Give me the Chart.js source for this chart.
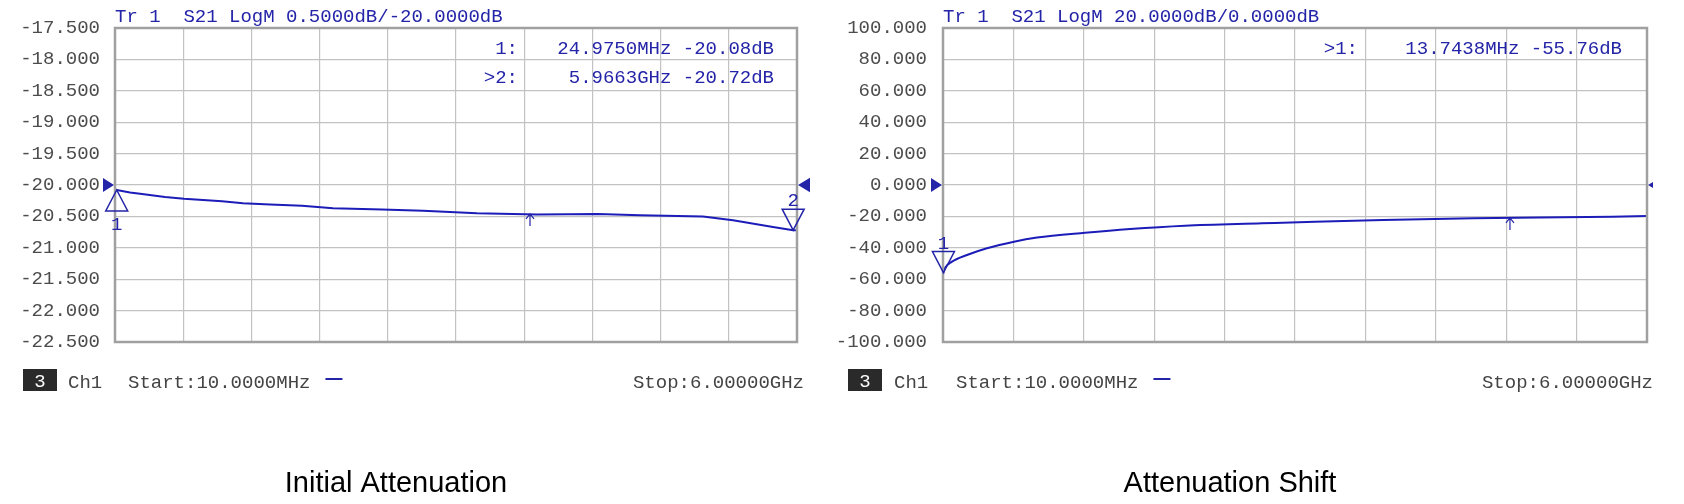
<!DOCTYPE html>
<html>
<head>
<meta charset="utf-8">
<script src="https://cdn.jsdelivr.net/npm/chart.js@4.4.1/dist/chart.umd.min.js"></script>
<style>
  html, body { margin: 0; padding: 0; background: #fff; }
  #wrap { position: relative; width: 1684px; height: 504px; }
  canvas { position: absolute; top: 0; }
  #left { left: 0; }
  #right { left: 820px; }
</style>
</head>
<body>
<div id="wrap">
  <canvas id="left" width="820" height="504"></canvas>
  <canvas id="right" width="864" height="504"></canvas>
</div>
<script>
const MONO = '19px "Liberation Mono", "DejaVu Sans Mono", monospace';
const BLUE = '#2424a8';
const TRACE = '#1c1cb8';

// sweep
const startMHz = 10;
const stopMHz = 6000;

// left: initial attenuation (S21, 0.5 dB/div, ref -20 dB)
const leftFreqMHz = [10, 25, 142, 230, 449, 616, 950, 1134, 1371, 1652, 1925, 2355, 2715, 2952, 3189, 3716, 4252, 4621, 5174, 5350, 5438, 5789, 5966, 6000];
const leftDb = [-20.08, -20.08, -20.12, -20.14, -20.19, -20.22, -20.26, -20.29, -20.31, -20.33, -20.37, -20.39, -20.41, -20.43, -20.45, -20.47, -20.46, -20.48, -20.50, -20.54, -20.56, -20.67, -20.72, -20.72];
const leftYTicks = [-22.5, -17.5, 0.5]; // min, max, step
const leftRefDb = -20;
const leftMarkerMHz = [24.975, 5966.3];
const leftMarkerDb = [-20.08, -20.72];
const leftMarkerUp = [true, false];
const leftArrow = [3655, -20.46];

// right: attenuation shift (S21, 20 dB/div, ref 0 dB)
const rightFreqMHz = [10, 13.74, 30, 87, 214, 384, 614, 810, 1218, 1601, 2069, 2724, 3175, 3754, 4520, 5702, 6000];
const rightDb = [-57.0, -55.76, -52.5, -48.8, -44.6, -40.3, -36.1, -33.5, -30.4, -28.0, -25.9, -24.4, -23.4, -22.3, -21.2, -20.2, -19.7];
const rightYTicks = [-100, 100, 20];
const rightRefDb = 0;
const rightMarkerMHz = [13.7438];
const rightMarkerDb = [-55.76];
const rightMarkerUp = [false];
const rightArrow = [4834, -21.0];

function fmtFreq(f) {
  return f < 1000 ? f.toFixed(4) + 'MHz' : (f / 1000).toFixed(4) + 'GHz';
}

function makePanel(id, o) {
  const overlay = {
    id: 'vna-' + id,
    afterDraw(chart) {
      const { ctx, chartArea: a, scales: { x, y } } = chart;
      ctx.save();

      // frame
      ctx.strokeStyle = '#a0a0a0';
      ctx.lineWidth = 2.5;
      ctx.strokeRect(a.left, a.top, a.right - a.left, a.bottom - a.top);

      // header
      ctx.font = MONO;
      ctx.fillStyle = BLUE;
      ctx.textAlign = 'left';
      ctx.textBaseline = 'alphabetic';
      ctx.fillText(o.header, a.left, 22);

      // marker readouts
      o.markerMHz.forEach((f, i) => {
        const yy = 54 + i * 29;
        ctx.textAlign = 'right';
        ctx.fillText((i === o.active ? '>' : '') + (i + 1) + ':', o.labelRight, yy);
        ctx.fillText(fmtFreq(f) + ' ' + o.markerDb[i].toFixed(2) + 'dB', o.valueRight, yy);
      });

      // reference level arrows
      const ry = y.getPixelForValue(o.refDb);
      ctx.fillStyle = BLUE;
      ctx.beginPath();
      ctx.moveTo(a.left - 12, ry - 7);
      ctx.lineTo(a.left - 1, ry);
      ctx.lineTo(a.left - 12, ry + 7);
      ctx.fill();
      const s = o.refRightSize;
      ctx.beginPath();
      ctx.moveTo(a.right + 1, ry);
      ctx.lineTo(a.right + 1 + s, ry - s * 0.6);
      ctx.lineTo(a.right + 1 + s, ry + s * 0.6);
      ctx.fill();

      // markers
      ctx.strokeStyle = BLUE;
      ctx.lineWidth = 1.5;
      ctx.textAlign = 'center';
      o.markerMHz.forEach((f, i) => {
        const px = x.getPixelForValue(f);
        const py = y.getPixelForValue(o.markerDb[i]);
        const h = o.markerUp[i] ? 21 : -21;
        ctx.beginPath();
        ctx.moveTo(px, py);
        ctx.lineTo(px - 11, py + h);
        ctx.lineTo(px + 11, py + h);
        ctx.closePath();
        ctx.stroke();
        ctx.fillText(String(i + 1), px, o.markerUp[i] ? py + h + 19 : py + h - 3);
      });

      // stimulus arrow
      const ax = x.getPixelForValue(o.arrow[0]);
      const ay = y.getPixelForValue(o.arrow[1]);
      ctx.lineWidth = 1.2;
      ctx.beginPath();
      ctx.moveTo(ax, ay);
      ctx.lineTo(ax, ay + 12);
      ctx.moveTo(ax - 4, ay + 5);
      ctx.lineTo(ax, ay);
      ctx.lineTo(ax + 4, ay + 5);
      ctx.stroke();

      // status line
      ctx.fillStyle = '#2a2a2a';
      ctx.fillRect(o.boxX, 369, 34, 22);
      ctx.fillStyle = '#fff';
      ctx.fillText('3', o.boxX + 17, 387);
      ctx.textAlign = 'left';
      ctx.fillStyle = '#444';
      ctx.fillText('Ch1', o.chX, 388);
      const startText = 'Start:' + startMHz.toFixed(4) + 'MHz';
      ctx.fillText(startText, o.startX, 388);
      const dx = o.startX + ctx.measureText(startText).width + 15;
      ctx.strokeStyle = BLUE;
      ctx.lineWidth = 2;
      ctx.beginPath();
      ctx.moveTo(dx, 379);
      ctx.lineTo(dx + 17, 379);
      ctx.stroke();
      ctx.textAlign = 'right';
      ctx.fillText('Stop:' + (stopMHz / 1000).toFixed(5) + 'GHz', o.stopRight, 388);

      // caption
      ctx.fillStyle = '#000';
      ctx.textAlign = 'center';
      ctx.font = '29px "Liberation Sans", Arial, sans-serif';
      ctx.fillText(o.caption, o.captionX, 492);

      ctx.restore();
    },
  };

  return new Chart(document.getElementById(id), {
    type: 'line',
    data: {
      datasets: [{
        data: o.freq.map((f, i) => ({ x: f, y: o.db[i] })),
        borderColor: TRACE,
        borderWidth: 2,
        pointRadius: 0,
        cubicInterpolationMode: o.smooth ? 'monotone' : 'default',
        tension: 0,
      }],
    },
    options: {
      responsive: false,
      animation: false,
      layout: { padding: { left: 0, top: 28, right: o.padRight, bottom: 162 } },
      plugins: { legend: { display: false }, tooltip: { enabled: false } },
      scales: {
        x: {
          type: 'linear',
          min: startMHz,
          max: stopMHz,
          afterBuildTicks: (scale) => {
            scale.ticks = Array.from({ length: 11 }, (_, i) => ({ value: startMHz + i * (stopMHz - startMHz) / 10 }));
          },
          afterFit: (scale) => { scale.height = 0; },
          ticks: { display: false },
          grid: { color: '#c2c2c2', lineWidth: 1.2, drawTicks: false },
          border: { display: false },
        },
        y: {
          min: o.yTicks[0],
          max: o.yTicks[1],
          afterFit: (scale) => { scale.width = o.yWidth; },
          ticks: {
            stepSize: o.yTicks[2],
            padding: o.tickPad,
            color: '#4c4c4c',
            font: { family: '"Liberation Mono", "DejaVu Sans Mono", monospace', size: 19 },
            callback: (v) => v.toFixed(3),
          },
          grid: { color: '#c2c2c2', lineWidth: 1.2, drawTicks: false },
          border: { display: false },
        },
      },
    },
    plugins: [overlay],
  });
}

makePanel('left', {
  freq: leftFreqMHz, db: leftDb, yTicks: leftYTicks, refDb: leftRefDb,
  header: 'Tr 1  S21 LogM 0.5000dB/-20.0000dB',
  markerMHz: leftMarkerMHz, markerDb: leftMarkerDb, markerUp: leftMarkerUp, active: 1,
  arrow: leftArrow, smooth: false,
  yWidth: 115, padRight: 23, tickPad: 15, refRightSize: 12,
  labelRight: 518, valueRight: 774,
  boxX: 23, chX: 68, startX: 128, stopRight: 804,
  caption: 'Initial Attenuation', captionX: 396,
});

makePanel('right', {
  freq: rightFreqMHz, db: rightDb, yTicks: rightYTicks, refDb: rightRefDb,
  header: 'Tr 1  S21 LogM 20.0000dB/0.0000dB',
  markerMHz: rightMarkerMHz, markerDb: rightMarkerDb, markerUp: rightMarkerUp, active: 0,
  arrow: rightArrow, smooth: true,
  yWidth: 123, padRight: 37, tickPad: 16, refRightSize: 5,
  labelRight: 538, valueRight: 802,
  boxX: 28, chX: 74, startX: 136, stopRight: 833,
  caption: 'Attenuation Shift', captionX: 410,
});
</script>
</body>
</html>
